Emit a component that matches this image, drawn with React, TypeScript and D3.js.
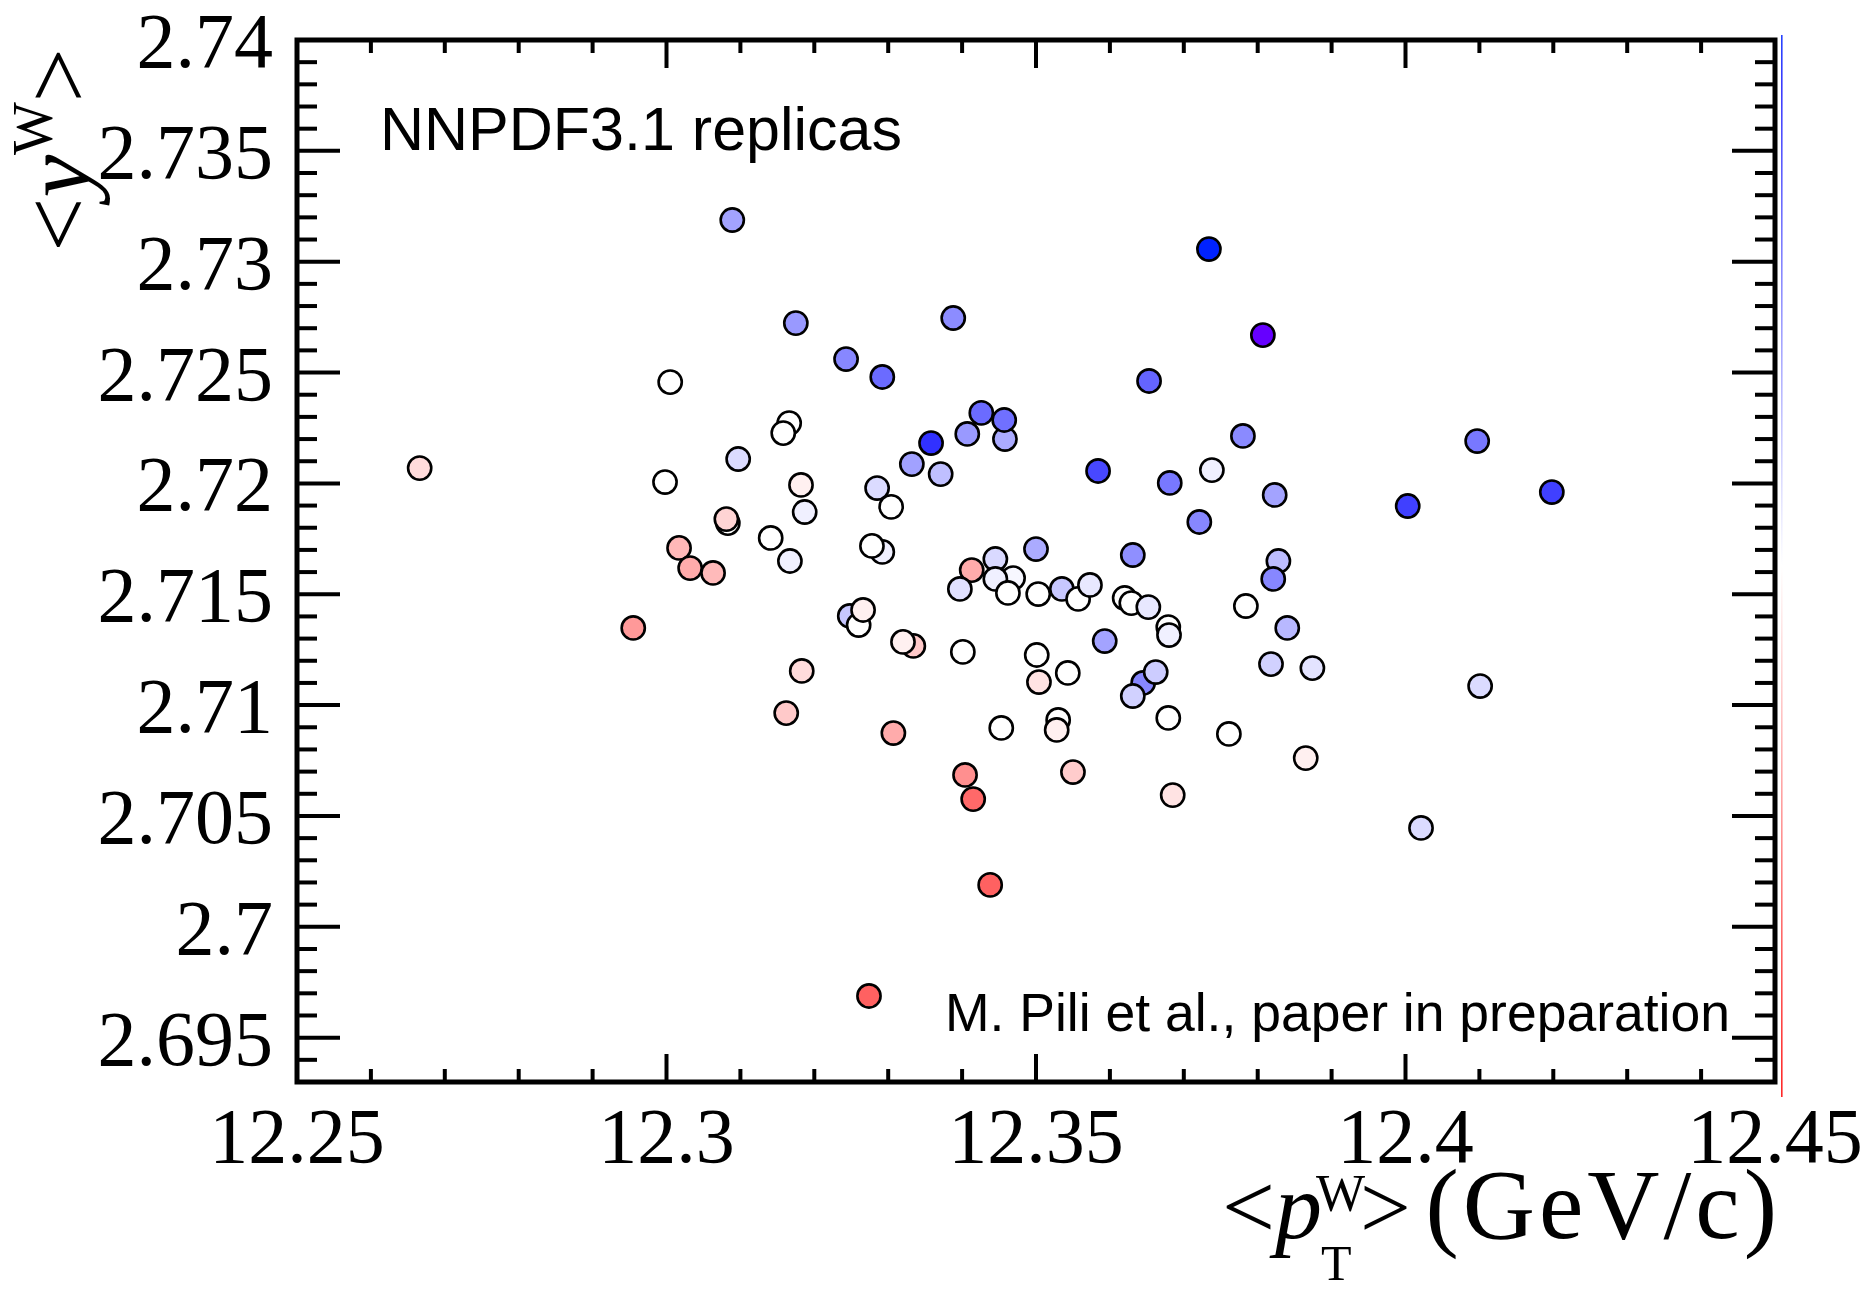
import React from "react";
import * as d3 from "d3";

// <pT^W> (GeV/c) per replica
const pointX = [
  12.3083, 12.3292, 12.3248, 12.326, 12.3266, 12.3334, 12.332, 12.3413, 12.3469, 12.362,
  12.3679, 12.3645, 12.353, 12.3828, 12.3458, 12.3285, 12.3535, 12.3557, 12.3404, 12.3089,
  12.3175, 12.3005, 12.3166, 12.3158, 12.3097, 12.2666, 12.2998, 12.3182, 12.3187, 12.3081,
  12.3141, 12.3167, 12.3017, 12.3032, 12.3063, 12.3243, 12.3292, 12.3653, 12.3426, 12.3457,
  12.3407, 12.3358, 12.3332, 12.3371, 12.3584, 12.3681, 12.3721, 12.3304, 12.3278, 12.35,
  12.3631, 12.3445, 12.3445, 12.3462, 12.3397, 12.3503, 12.3573, 12.3629, 12.3652, 12.368,
  12.3401, 12.3593, 12.3501, 12.3504, 12.3543, 12.3662, 12.3631, 12.3183, 12.3162, 12.3307,
  12.3453, 12.3528, 12.3679, 12.3388, 12.3734, 12.3807, 12.378, 12.3738, 12.4097, 12.3823,
  12.4003, 12.4198, 12.3821, 12.3784, 12.2955, 12.3415, 12.3274, 12.3438, 12.384, 12.3818,
  12.3874, 12.3761, 12.3865, 12.355, 12.3685, 12.4021, 12.4101,
];

// <y^W> per replica
const pointY = [
  2.71821, 2.71691, 2.71402, 2.71361, 2.71429, 2.71267, 2.71285, 2.71609, 2.71573, 2.71483,
  2.71352, 2.711, 2.70933, 2.7165, 2.722, 2.71979, 2.71524, 2.71479, 2.70685, 2.73188,
  2.72723, 2.72457, 2.72272, 2.72227, 2.7211, 2.72069, 2.72006, 2.71993, 2.71871, 2.71839,
  2.71754, 2.7165, 2.71709, 2.71618, 2.71596, 2.72561, 2.7248, 2.72462, 2.72318, 2.72286,
  2.72223, 2.72182, 2.72087, 2.72042, 2.72056, 2.72002, 2.71826, 2.71894, 2.71718, 2.71704,
  2.71677, 2.71659, 2.71569, 2.71506, 2.71524, 2.71501, 2.71542, 2.7146, 2.71442, 2.71316,
  2.7124, 2.71289, 2.71226, 2.71104, 2.71145, 2.71149, 2.71041, 2.71154, 2.70964, 2.70874,
  2.70897, 2.70888, 2.70942, 2.72746, 2.73057, 2.72669, 2.72214, 2.7206, 2.72191, 2.71948,
  2.71898, 2.71961, 2.71569, 2.71447, 2.71348, 2.70576, 2.69688, 2.70189, 2.71348, 2.71185,
  2.71167, 2.7087, 2.70761, 2.70698, 2.70594, 2.70446, 2.71086,
];

// colour variable (negative = red, positive = blue)
const pointZ = [
  0, 0.06, 0.22, 0, -0.06, -0.21, -0.06, -0.33, 0.03, 0,
  0, 0.47, 0, 0.26, 0.33, 0.14, 0.22, 0, -0.44, 0.36,
  0.4, 0, 0, 0, 0.14, -0.14, 0, -0.06, 0.06, -0.17,
  0, 0.06, -0.28, -0.33, -0.27, 0.47, 0.58, 0.61, 0.58, 0.56,
  0.4, 0.81, 0.37, 0.25, 0.72, 0.53, 0.47, 0, 0, 0.33,
  0.44, 0.15, 0.06, 0, 0.12, 0, 0.09, 0, 0.09, 0.06,
  0, 0.36, 0, -0.11, 0, 0.2, 0.18, -0.14, -0.21, -0.33,
  0, -0.06, 0, 0.45, 1.0, 1.2, 0.46, 0.06, 0.53, 0.36,
  0.75, 0.75, 0.47, 0, -0.4, -0.59, -0.62, -0.62, 0.28, 0.18,
  0.11, 0, -0.06, -0.2, -0.11, 0.14, 0.14,
];

const xDomain = [12.25, 12.45];
const yDomain = [2.693, 2.74];
const mainLabel = "NNPDF3.1 replicas";
const creditLabel = "M. Pili et al., paper in preparation";

const W = 1875;
const H = 1291;
const margin = { left: 297, right: 100, top: 40, bottom: 209 };
const serif = "'Liberation Serif', 'Times New Roman', serif";
const sans = "'Liberation Sans', Arial, Helvetica, sans-serif";

export default function App() {
  const x = d3.scaleLinear().domain(xDomain).range([margin.left, W - margin.right]);
  const y = d3.scaleLinear().domain(yDomain).range([H - margin.bottom, margin.top]);
  const color = d3
    .scaleLinear<string>()
    .domain([-1, 0, 0.95, 1.0, 1.2])
    .range(["#ff0000", "#ffffff", "#0d0dff", "#0022ff", "#6600ff"])
    .clamp(true);

  const x0 = margin.left, x1 = W - margin.right;
  const y0 = margin.top, y1 = H - margin.bottom;

  const xMajor = x.ticks(4);
  const xMinor = d3.ticks(xDomain[0], xDomain[1], 20).filter(
    (t) => !xMajor.some((m) => Math.abs(m - t) < 1e-9)
  );
  const yMajor = d3.ticks(yDomain[0], yDomain[1], 10);
  const yMinor = d3.ticks(yDomain[0], yDomain[1], 47).filter(
    (t) => !yMajor.some((m) => Math.abs(m - t) < 1e-9)
  );
  const fmt = (v: number) => String(+v.toFixed(4));

  const xMajLen = 28, xMinLen = 13, yMajLen = 43, yMinLen = 20;
  const tickW = 4;

  const gradStops = d3.range(0, 1.0001, 0.05).map((f) => ({
    offset: f,
    c: color(1 - 2 * f),
  }));

  const pts = pointX.map((px, i) => ({ x: px, y: pointY[i], z: pointZ[i] }));

  return (
    <svg
      width={W}
      height={H}
      style={{ position: "absolute", left: 0, top: 0, background: "#fff" }}
    >
      <defs>
        <linearGradient id="pal" x1="0" y1="0" x2="0" y2="1">
          {gradStops.map((s, i) => (
            <stop key={i} offset={s.offset} stopColor={s.c} />
          ))}
        </linearGradient>
      </defs>
      <rect x={0} y={0} width={W} height={H} fill="#fff" />

      {/* palette line */}
      <rect x={1781} y={35} width={1.6} height={1062} fill="url(#pal)" opacity={0.85} />

      {/* points */}
      <g>
        {pts.map((p, i) => (
          <circle
            key={i}
            cx={x(p.x)}
            cy={y(p.y)}
            r={11.6}
            fill={color(p.z)}
            stroke="#000"
            strokeWidth={2.6}
          />
        ))}
      </g>

      {/* ticks */}
      <g stroke="#000" strokeWidth={tickW}>
        {xMajor.map((t, i) => (
          <g key={"xM" + i}>
            <line x1={x(t)} x2={x(t)} y1={y1} y2={y1 - xMajLen} />
            <line x1={x(t)} x2={x(t)} y1={y0} y2={y0 + xMajLen} />
          </g>
        ))}
        {xMinor.map((t, i) => (
          <g key={"xm" + i}>
            <line x1={x(t)} x2={x(t)} y1={y1} y2={y1 - xMinLen} />
            <line x1={x(t)} x2={x(t)} y1={y0} y2={y0 + xMinLen} />
          </g>
        ))}
        {yMajor.map((t, i) => (
          <g key={"yM" + i}>
            <line x1={x0} x2={x0 + yMajLen} y1={y(t)} y2={y(t)} />
            <line x1={x1} x2={x1 - yMajLen} y1={y(t)} y2={y(t)} />
          </g>
        ))}
        {yMinor.map((t, i) => (
          <g key={"ym" + i}>
            <line x1={x0} x2={x0 + yMinLen} y1={y(t)} y2={y(t)} />
            <line x1={x1} x2={x1 - yMinLen} y1={y(t)} y2={y(t)} />
          </g>
        ))}
      </g>

      {/* frame */}
      <rect
        x={x0}
        y={y0}
        width={x1 - x0}
        height={y1 - y0}
        fill="none"
        stroke="#000"
        strokeWidth={5}
      />

      {/* tick labels */}
      <g fontFamily={serif} fontSize={78} fill="#000">
        {xMajor.map((t, i) => (
          <text key={"xl" + i} x={x(t)} y={1162} textAnchor="middle">
            {fmt(t)}
          </text>
        ))}
        {yMajor.map((t, i) => (
          <text key={"yl" + i} x={273} y={y(t) + 27} textAnchor="end">
            {fmt(t)}
          </text>
        ))}
      </g>

      {/* x axis title: <p_T^W> (GeV/c) */}
      <g fontFamily={serif} fill="#000">
        <text x={1222} y={1238} fontSize={94}>
          <tspan>&lt;</tspan>
          <tspan fontStyle="italic">p</tspan>
        </text>
        <text x={1316} y={1211} fontSize={52}>W</text>
        <text x={1321} y={1280} fontSize={50}>T</text>
        <text x={1360} y={1238} fontSize={90}>&gt;</text>
        <text x={1781} y={1238} fontSize={100} letterSpacing={4} textAnchor="end">
          (GeV/c)
        </text>
      </g>

      {/* y axis title: <y^W> */}
      <g transform="translate(90,48) rotate(-90)">
        <text x={0} y={0} textAnchor="end" fontFamily={serif} fontSize={96} fill="#000">
          <tspan>&lt;</tspan>
          <tspan fontStyle="italic">y</tspan>
          <tspan fontSize={56} dy={-38}>W</tspan>
          <tspan dy={38}>&gt;</tspan>
        </text>
      </g>

      {/* annotations */}
      <text x={380} y={150} fontFamily={sans} fontSize={61} fill="#000">
        {mainLabel}
      </text>
      <text x={1730} y={1031} fontFamily={sans} fontSize={53.5} textAnchor="end" fill="#000">
        {creditLabel}
      </text>
    </svg>
  );
}
